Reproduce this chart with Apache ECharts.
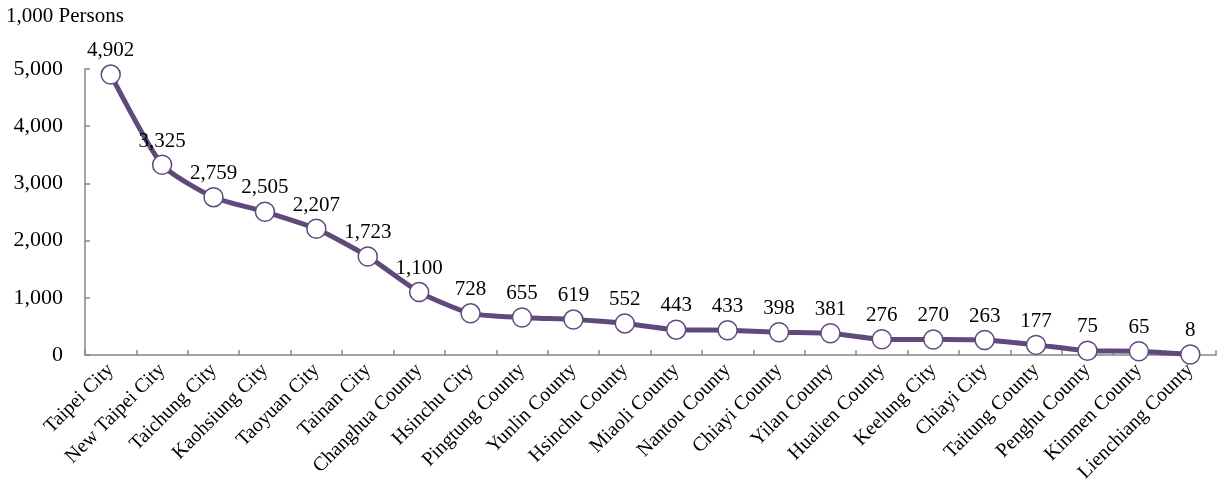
<!DOCTYPE html>
<html>
<head>
<meta charset="utf-8">
<script src="https://cdn.jsdelivr.net/npm/echarts@6/dist/echarts.min.js"></script>
<style>html,body{margin:0;padding:0;background:#fff}#c{width:1217px;height:498px}</style>
</head>
<body>
<div id="c"></div>
<script>
const categories = ["Taipei City","New Taipei City","Taichung City","Kaohsiung City","Taoyuan City","Tainan City","Changhua County","Hsinchu City","Pingtung County","Yunlin County","Hsinchu County","Miaoli County","Nantou County","Chiayi County","Yilan County","Hualien County","Keelung City","Chiayi City","Taitung County","Penghu County","Kinmen County","Lienchiang County"];
const population = [4902,3325,2759,2505,2207,1723,1100,728,655,619,552,443,433,398,381,276,270,263,177,75,65,8];
const yTicks = [0,1000,2000,3000,4000,5000];
const unitLabel = "1,000 Persons";

const FONT = "'Liberation Serif','Times New Roman',serif";
const PURPLE = "#604a7b";
const chart = echarts.init(document.getElementById('c'));
chart.setOption({
  animation: false,
  textStyle: { fontFamily: FONT },
  graphic: [{ type: 'text', left: 6, top: 6, style: { text: unitLabel, font: "21px " + FONT, fill: "#000" } }],
  grid: { left: 85, right: 1, top: 69, bottom: 143, containLabel: false },
  xAxis: {
    type: 'category', data: categories, boundaryGap: true,
    axisLine: { lineStyle: { color: '#868686', width: 1.5 } },
    axisTick: { show: true, inside: true, length: 5, alignWithLabel: false, lineStyle: { color: '#868686', width: 1.5 } },
    axisLabel: { rotate: 45, interval: 0, color: '#000', fontSize: 20, fontFamily: FONT, margin: 12 }
  },
  yAxis: {
    type: 'value', min: yTicks[0], max: yTicks[yTicks.length - 1], interval: 1000,
    splitLine: { show: false },
    axisLine: { show: true, lineStyle: { color: '#868686', width: 1.5 } },
    axisTick: { show: true, inside: true, length: 5, lineStyle: { color: '#868686', width: 1.5 } },
    axisLabel: { color: '#000', fontSize: 22, fontFamily: FONT, margin: 22,
      formatter: v => v.toLocaleString('en-US') }
  },
  series: [{
    type: 'line', data: population, smooth: 0.2,
    lineStyle: { color: PURPLE, width: 5 },
    symbol: 'circle', symbolSize: 19,
    itemStyle: { color: '#fff', borderColor: PURPLE, borderWidth: 1.5 },
    label: { show: true, position: 'top', distance: 3, color: '#000', fontSize: 21, fontFamily: FONT,
      formatter: p => p.value.toLocaleString('en-US') }
  }]
});
</script>
</body>
</html>
